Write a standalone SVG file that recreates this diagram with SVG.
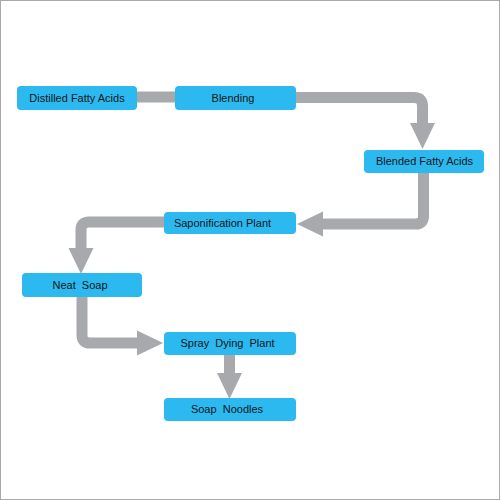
<svg xmlns="http://www.w3.org/2000/svg" width="500" height="500" viewBox="0 0 500 500">
<style>
.box{fill:#2bb9f0;}
.lbl{font-family:"Liberation Sans",Arial,sans-serif;font-size:11px;fill:#151515;text-anchor:middle;white-space:pre;}
.con{fill:none;stroke:#a7a9ac;stroke-width:11;}
</style>
<defs>
<marker id="ah" markerUnits="userSpaceOnUse" markerWidth="26" markerHeight="26" viewBox="0 0 25 24" refX="0" refY="12" orient="auto">
<path d="M0,0 L25,12 L0,24 Z" fill="#a7a9ac"/>
</marker>
</defs>
<rect x="0.5" y="0.5" width="499" height="499" fill="#fff" stroke="#a9a9a9" stroke-width="1"/>
<g id="connectors">
<path class="con" d="M137,97 H175"/>
<path class="con" d="M296,97.5 H414 Q422.5,97.5 422.5,106 V123" marker-end="url(#ah)"/>
<path class="con" d="M423.5,173 V216 Q423.5,224 415.5,224 H323" marker-end="url(#ah)"/>
<path class="con" d="M164,222 H89 Q81,222 81,230 V248" marker-end="url(#ah)"/>
<path class="con" d="M82,297 V335 Q82,343 90,343 H137" marker-end="url(#ah)"/>
<path class="con" d="M229.5,355 V373" marker-end="url(#ah)"/>
</g>
<g id="n1"><rect class="box" x="17" y="86" width="120" height="24" rx="4"/><text class="lbl" x="77" y="101.5">Distilled Fatty Acids</text></g>
<g id="n2"><rect class="box" x="175" y="86" width="121" height="24" rx="4"/><text class="lbl" x="233" y="101.5">Blending</text></g>
<g id="n3"><rect class="box" x="364" y="150" width="120" height="23" rx="4"/><text class="lbl" x="424.5" y="165">Blended Fatty Acids</text></g>
<g id="n4"><rect class="box" x="164" y="212" width="132" height="22" rx="4"/><text class="lbl" x="222.5" y="226.5">Saponification Plant</text></g>
<g id="n5"><rect class="box" x="22" y="273" width="120" height="24" rx="4"/><text class="lbl" x="80" y="289" xml:space="preserve">Neat  Soap</text></g>
<g id="n6"><rect class="box" x="164" y="332" width="132" height="23" rx="4"/><text class="lbl" x="227.5" y="347" xml:space="preserve">Spray  Dying  Plant</text></g>
<g id="n7"><rect class="box" x="164" y="398" width="132" height="23" rx="4"/><text class="lbl" x="227" y="413" xml:space="preserve">Soap  Noodles</text></g>
</svg>
